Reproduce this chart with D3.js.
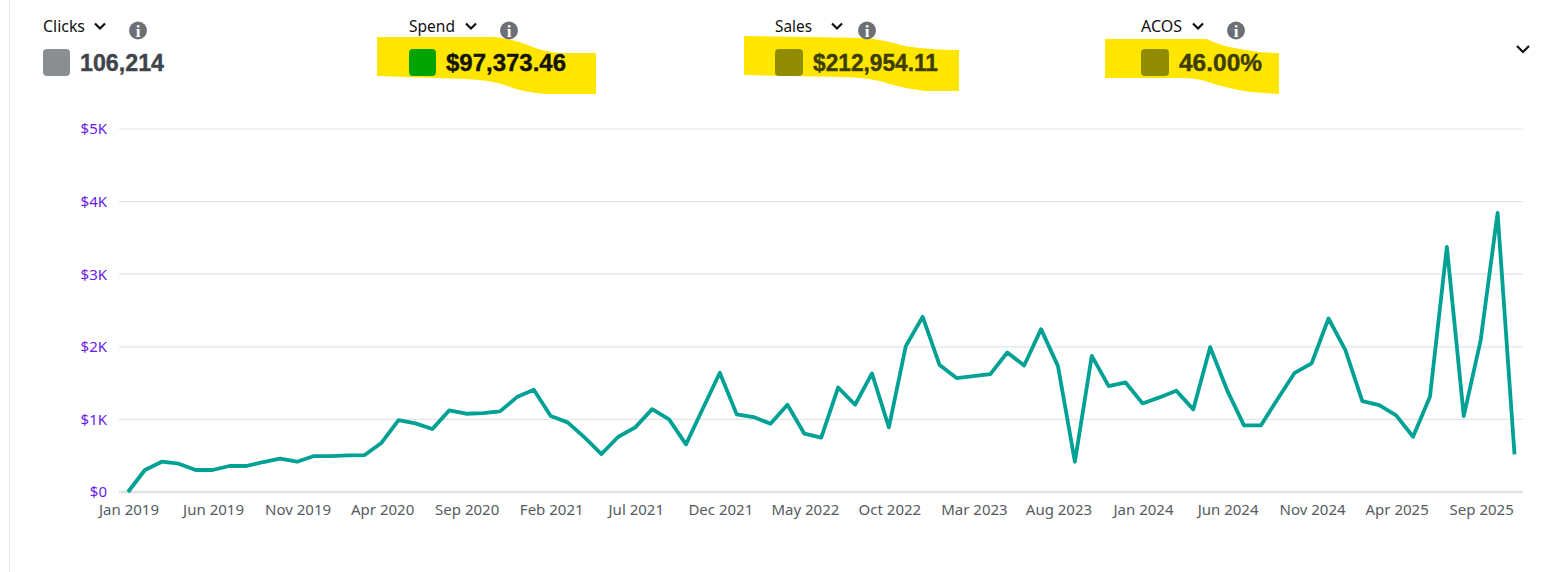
<!DOCTYPE html>
<html><head><meta charset="utf-8">
<script src="https://cdn.jsdelivr.net/npm/d3@7/dist/d3.min.js"></script>
<style>
html,body{margin:0;padding:0;background:#fff;overflow:hidden}
svg{display:block}
.axis path,.axis line{display:none}
</style></head><body>
<svg id="c" width="1552" height="572"></svg>
<script>
const months = ["Jan 2019","Feb 2019","Mar 2019","Apr 2019","May 2019","Jun 2019","Jul 2019","Aug 2019","Sep 2019","Oct 2019","Nov 2019","Dec 2019",
"Jan 2020","Feb 2020","Mar 2020","Apr 2020","May 2020","Jun 2020","Jul 2020","Aug 2020","Sep 2020","Oct 2020","Nov 2020","Dec 2020",
"Jan 2021","Feb 2021","Mar 2021","Apr 2021","May 2021","Jun 2021","Jul 2021","Aug 2021","Sep 2021","Oct 2021","Nov 2021","Dec 2021",
"Jan 2022","Feb 2022","Mar 2022","Apr 2022","May 2022","Jun 2022","Jul 2022","Aug 2022","Sep 2022","Oct 2022","Nov 2022","Dec 2022",
"Jan 2023","Feb 2023","Mar 2023","Apr 2023","May 2023","Jun 2023","Jul 2023","Aug 2023","Sep 2023","Oct 2023","Nov 2023","Dec 2023",
"Jan 2024","Feb 2024","Mar 2024","Apr 2024","May 2024","Jun 2024","Jul 2024","Aug 2024","Sep 2024","Oct 2024","Nov 2024","Dec 2024",
"Jan 2025","Feb 2025","Mar 2025","Apr 2025","May 2025","Jun 2025","Jul 2025","Aug 2025","Sep 2025","Oct 2025","Nov 2025"];
const spend = [0,303,417,390,303,303,358,358,413,459,417,495,
495,505,509,679,991,945,867,1124,1078,1087,1110,1307,
1408,1046,959,752,523,761,890,1142,1000,656,1151,1642,
1069,1032,940,1202,803,748,1440,1202,1633,890,2009,2413,
1748,1569,1596,1624,1922,1743,2243,1734,417,1876,1459,1509,
1220,1303,1394,1138,1995,1404,917,917,1284,1642,1771,2390,
1954,1252,1197,1055,761,1312,3376,1046,2092,3844,518];
const xTickLabels = ["Jan 2019","Jun 2019","Nov 2019","Apr 2020","Sep 2020","Feb 2021","Jul 2021","Dec 2021","May 2022","Oct 2022","Mar 2023","Aug 2023","Jan 2024","Jun 2024","Nov 2024","Apr 2025","Sep 2025"];
const yTicks = [0,1000,2000,3000,4000,5000];
const metricNames = ["Clicks","Spend","Sales","ACOS"];
const metricValues = ["106,214","$97,373.46","$212,954.11","46.00%"];

const labelX = [43,409,775,1141];
const labelW = [42,46,37,41];
const infoX = [138,509,867,1236];
const chevX = [100,471,837,1198];
const swatchW = [27,27,28,28];
const swatchColor = ["#8b8e90","#00a300","#8f8c00","#8f8c00"];
const valueColor = ["#3f444b","#14140a","#3d3d05","#3d3d05"];
const valueWidth = [84,120,125,83];
const highlights = [
  null,
  "M377,37 L495,37 Q520,41 530,46 Q545,52 560,53 L596,53 L596,94 L545,94 Q520,92 505,85 Q490,80 465,79 L377,76 Z",
  "M744,36 L865,38 Q885,40 905,46 Q930,50 959,50 L959,91 L925,91 Q900,88 880,81 Q860,77 840,77 L744,75 Z",
  "M1105,39 L1207,39 Q1220,46 1240,49 Q1260,53 1279,53 L1279,94 L1250,92 Q1225,88 1205,81 Q1195,78 1180,78 L1105,78 Z"
];

const svg = d3.select("#c");
const x = d3.scalePoint().domain(months).range([128,1514.5]);
const y = d3.scaleLinear().domain([0,5000]).range([492,129]);

svg.append("line").attr("x1",9.5).attr("x2",9.5).attr("y1",0).attr("y2",572).attr("stroke","#e8e8e8");

svg.append("g").selectAll("line").data(yTicks).join("line")
  .attr("x1",119).attr("x2",1523)
  .attr("y1",d=>y(d)).attr("y2",d=>y(d))
  .attr("stroke",d=>d===0?"#e2e2de":"#e4e4e4")
  .attr("stroke-width",d=>d===0?2.4:1.2);

const yAxis = d3.axisLeft(y).tickValues(yTicks).tickSize(0).tickPadding(0)
  .tickFormat(d=>d===0?"$0":"$"+(d/1000)+"K");
svg.append("g").attr("class","axis").attr("transform","translate(107,0)").call(yAxis)
  .call(g=>g.selectAll("text").attr("fill","#6a1be8").attr("font-family","'Noto Sans'").attr("font-size",15));

const xAxis = d3.axisBottom(x).tickValues(xTickLabels).tickSize(0).tickPadding(0);
svg.append("g").attr("class","axis").attr("transform","translate(0.5,504)").call(xAxis)
  .call(g=>g.selectAll("text").attr("fill","#555b60").attr("font-family","'Noto Sans'").attr("font-size",15));

const line = d3.line().x((d,i)=>x(months[i])).y(d=>y(d));
svg.append("path").datum(spend).attr("d",line).attr("fill","none")
  .attr("stroke","#00a195").attr("stroke-width",3.8).attr("stroke-linejoin","round");

const m = svg.append("g");
metricNames.forEach((name,i)=>{
  if(highlights[i]) m.append("path").attr("d",highlights[i]).attr("fill","#ffe600");
  m.append("text").attr("x",labelX[i]).attr("y",32).text(name)
    .attr("font-family","'Noto Sans'").attr("font-size",16).attr("fill","#0f1111")
    .attr("textLength",labelW[i]).attr("lengthAdjust","spacingAndGlyphs");
  m.append("path").attr("d",`M${chevX[i]-5},${23.5} l5,5 l5,-5`).attr("fill","none")
    .attr("stroke","#0f1111").attr("stroke-width",2.2);
  m.append("circle").attr("cx",infoX[i]).attr("cy",30.5).attr("r",9).attr("fill","#6c6f75");
  m.append("text").attr("x",infoX[i]).attr("y",36.5).attr("text-anchor","middle").text("i")
    .attr("font-family","'Liberation Serif'").attr("font-weight","bold").attr("font-size",17).attr("fill","#fff");
  m.append("rect").attr("x",labelX[i]).attr("y",49).attr("width",swatchW[i]).attr("height",27).attr("rx",4)
    .attr("fill",swatchColor[i]);
  m.append("text").attr("x",labelX[i]+swatchW[i]+10).attr("y",71).text(metricValues[i])
    .attr("font-family","'Liberation Sans'").attr("font-weight","bold").attr("font-size",24)
    .attr("textLength",valueWidth[i]).attr("lengthAdjust","spacingAndGlyphs")
    .attr("fill",valueColor[i]).attr("stroke",valueColor[i]).attr("stroke-width",0.4);
});
m.append("path").attr("d","M1517,46 l6,6 l6,-6").attr("fill","none").attr("stroke","#0f1111").attr("stroke-width",2.2);
</script>
</body></html>
